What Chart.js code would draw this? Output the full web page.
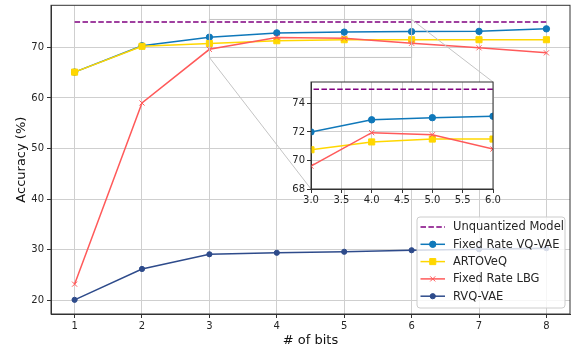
<!DOCTYPE html>
<html>
<head>
<meta charset="utf-8">
<script src="https://cdn.jsdelivr.net/npm/chart.js@4.4.1/dist/chart.umd.min.js"></script>
<style>
  html, body { margin: 0; padding: 0; background: #fff; }
  #wrap { position: relative; width: 576px; height: 348px; }
  #wrap canvas { position: absolute; left: 0; top: 0; }
</style>
</head>
<body>
<div id="wrap">
  <canvas id="mainChart" width="576" height="348"></canvas>
  <canvas id="insetChart" width="576" height="348"></canvas>
</div>
<script>
// values
const BITS = [1, 2, 3, 4, 5, 6, 7, 8];
const UNQUANTIZED = [75, 75, 75, 75, 75, 75, 75, 75];
const VQ_VAE = [65.1, 70.3, 72.0, 72.85, 73.0, 73.1, 73.15, 73.65];
const ARTOVEQ = [65.1, 70.2, 70.75, 71.3, 71.5, 71.5, 71.5, 71.5];
const LBG = [23.2, 59.0, 69.6, 71.95, 71.8, 70.8, 69.9, 68.9];
const RVQ_VAE = [20.1, 26.2, 29.1, 29.4, 29.6, 29.9, 30.1, 30.3];

const X_TICKS = [1, 2, 3, 4, 5, 6, 7, 8];
const Y_TICKS = [20, 30, 40, 50, 60, 70];
const X_RANGE = [0.65, 8.35];
const Y_RANGE = [17.3, 78.3];

const INSET_X_TICKS = [3, 3.5, 4, 4.5, 5, 5.5, 6];
const INSET_Y_TICKS = [68, 70, 72, 74];
const INSET_X_RANGE = [3, 6];
const INSET_Y_RANGE = [68, 75.5];

const SERIES = [
  { label: "Unquantized Model", values: UNQUANTIZED, color: "#800080", dash: [5.5, 2.4], style: false, r: 0 },
  { label: "Fixed Rate VQ-VAE", values: VQ_VAE, color: "#0f78ba", dash: [], style: "circle", r: 3.2 },
  { label: "ARTOVeQ", values: ARTOVEQ, color: "#ffd700", dash: [], style: "rect", r: 4.3 },
  { label: "Fixed Rate LBG", values: LBG, color: "#ff5a5a", dash: [], style: "crossRot", r: 3.6 },
  { label: "RVQ-VAE", values: RVQ_VAE, color: "#2e4b8b", dash: [], style: "circle", r: 2.6 },
];

Chart.defaults.font.family = "'DejaVu Sans', sans-serif";
Chart.defaults.animation = false;

const GRID = "#cfcfcf";
const AXIS = "#333";
const TEXT = "#262626";

function makeDatasets() {
  return SERIES.map((s, i) => ({
    label: s.label,
    data: BITS.map((b, j) => ({ x: b, y: s.values[j] })),
    order: SERIES.length - i, // later series drawn on top, like the original
    borderColor: s.color,
    backgroundColor: s.color,
    borderWidth: 1.5,
    borderDash: s.dash,
    pointStyle: s.style,
    pointRadius: s.r,
    pointBorderColor: s.color,
    pointBackgroundColor: s.color,
    pointBorderWidth: 1,
    tension: 0,
  }));
}

function fixedTicks(list) {
  return scale => { scale.ticks = list.map(v => ({ value: v })); };
}

// force the box size and drop the extra label padding chart.js adds
function fitX(h) {
  return s => { s.height = h; s.paddingLeft = 0; s.paddingRight = 0; };
}
function fitY(w) {
  return s => { s.width = w; s.paddingTop = 0; s.paddingBottom = 0; };
}

function frame(chart) {
  const a = chart.chartArea, ctx = chart.ctx;
  ctx.save();
  ctx.strokeStyle = AXIS;
  ctx.lineWidth = 1;
  ctx.strokeRect(a.left, a.top, a.right - a.left, a.bottom - a.top);
  ctx.restore();
}

// ---------- inset ----------
const insetChart = new Chart(document.getElementById("insetChart"), {
  type: "line",
  data: { datasets: makeDatasets() },
  options: {
    responsive: false,
    devicePixelRatio: 1,
    layout: { padding: { left: 289, top: 82, right: 83, bottom: 143 } },
    plugins: { legend: { display: false }, tooltip: { enabled: false } },
    scales: {
      x: {
        type: "linear", min: INSET_X_RANGE[0], max: INSET_X_RANGE[1],
        afterBuildTicks: fixedTicks(INSET_X_TICKS),
        afterFit: fitX(16),
        grid: { color: GRID, tickColor: AXIS, tickLength: 4 },
        border: { color: AXIS },
        ticks: { color: TEXT, font: { size: 10 }, padding: 1, maxRotation: 0, callback: v => v.toFixed(1) },
      },
      y: {
        type: "linear", min: INSET_Y_RANGE[0], max: INSET_Y_RANGE[1],
        afterBuildTicks: fixedTicks(INSET_Y_TICKS),
        afterFit: fitY(22),
        grid: { color: GRID, tickColor: AXIS, tickLength: 4 },
        border: { color: AXIS },
        ticks: { color: TEXT, font: { size: 10 }, padding: 2 },
      },
    },
  },
  plugins: [{
    id: "insetBg",
    beforeDraw(chart) {
      const a = chart.chartArea, ctx = chart.ctx;
      ctx.save();
      ctx.fillStyle = "#fff";
      ctx.fillRect(a.left, a.top, a.right - a.left, a.bottom - a.top);
      ctx.restore();
    },
    afterDatasetsDraw: frame,
  }],
});

// ---------- main ----------
const insetMarks = {
  id: "insetMarks",
  afterDatasetsDraw(chart) {
    const ctx = chart.ctx, xs = chart.scales.x, ys = chart.scales.y;
    const x0 = xs.getPixelForValue(INSET_X_RANGE[0]), x1 = xs.getPixelForValue(INSET_X_RANGE[1]);
    const y0 = ys.getPixelForValue(INSET_Y_RANGE[0]), y1 = ys.getPixelForValue(INSET_Y_RANGE[1]);
    const ia = insetChart.chartArea;
    ctx.save();
    ctx.strokeStyle = "#c4c4c4";
    ctx.lineWidth = 1;
    ctx.strokeRect(x0, y1, x1 - x0, y0 - y1);
    ctx.beginPath();
    ctx.moveTo(x0, y0); ctx.lineTo(ia.left, ia.bottom);
    ctx.moveTo(x1, y1); ctx.lineTo(ia.right, ia.top);
    ctx.stroke();
    ctx.restore();
    frame(chart);
  },
};

const legendBox = {
  id: "legendBox",
  afterDraw(chart) {
    const ctx = chart.ctx, a = chart.chartArea;
    const w = 148, h = 91, rowH = 17.3;
    const left = a.right - 5 - w, top = a.bottom - 6 - h;
    ctx.save();
    ctx.beginPath();
    ctx.roundRect(left, top, w, h, 3);
    ctx.fillStyle = "rgba(255,255,255,0.8)";
    ctx.fill();
    ctx.strokeStyle = "#cccccc";
    ctx.lineWidth = 1;
    ctx.stroke();
    ctx.font = "11.5px 'DejaVu Sans'";
    ctx.textBaseline = "middle";
    SERIES.forEach((s, i) => {
      const y = top + 10 + i * rowH;
      const lx = left + 3.5;
      ctx.strokeStyle = s.color;
      ctx.lineWidth = 1.5;
      ctx.setLineDash(s.dash);
      ctx.beginPath();
      ctx.moveTo(lx, y); ctx.lineTo(lx + 24.5, y);
      ctx.stroke();
      ctx.setLineDash([]);
      if (s.style) {
        ctx.fillStyle = s.color;
        ctx.lineWidth = 1;
        Chart.helpers.drawPoint(ctx, { pointStyle: s.style, radius: s.r, rotation: 0, borderWidth: 1 }, lx + 12.25, y);
      }
      ctx.fillStyle = TEXT;
      ctx.fillText(s.label, left + 36, y + 0.5);
    });
    ctx.restore();
  },
};

new Chart(document.getElementById("mainChart"), {
  type: "line",
  data: { datasets: makeDatasets() },
  options: {
    responsive: false,
    devicePixelRatio: 1,
    layout: { padding: { left: 0, top: 4, right: 6, bottom: 0 } },
    plugins: { legend: { display: false }, tooltip: { enabled: false } },
    scales: {
      x: {
        type: "linear", min: X_RANGE[0], max: X_RANGE[1],
        afterBuildTicks: fixedTicks(X_TICKS),
        afterFit: fitX(34),
        grid: { color: GRID, tickColor: AXIS, tickLength: 4 },
        border: { color: AXIS },
        ticks: { color: TEXT, font: { size: 10 }, padding: 2, maxRotation: 0 },
        title: { display: true, text: "# of bits", color: "#111", font: { size: 13 }, padding: { top: 0, bottom: 0 } },
      },
      y: {
        type: "linear", min: Y_RANGE[0], max: Y_RANGE[1],
        afterBuildTicks: fixedTicks(Y_TICKS),
        afterFit: fitY(51),
        grid: { color: GRID, tickColor: AXIS, tickLength: 4 },
        border: { color: AXIS },
        ticks: { color: TEXT, font: { size: 10 }, padding: 3 },
        title: { display: true, text: "Accuracy (%)", color: "#111", font: { size: 13 }, padding: { top: 14, bottom: 0 } },
      },
    },
  },
  plugins: [insetMarks, legendBox],
});
</script>
</body>
</html>
